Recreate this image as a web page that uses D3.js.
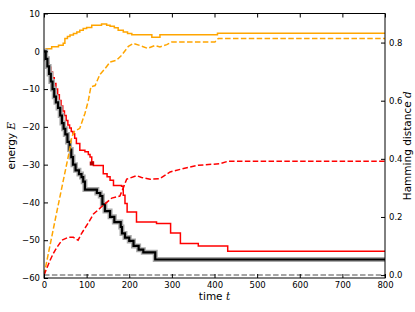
<!DOCTYPE html>
<html>
<head>
<meta charset="utf-8">
<script src="https://cdn.jsdelivr.net/npm/d3@7"></script>
<style>
  body { margin: 0; background: #fff; }
  svg { display: block; font-family: "DejaVu Sans", sans-serif; }
</style>
</head>
<body>
<svg width="415" height="312"></svg>
<script>
// energy runs (left axis), step functions: [time, energy]
const blackEnergy = [[0,0],[4,-2],[8,-4],[12,-6],[16,-8],[20,-10],[24,-12],[28,-13.5],[33,-15],[38,-17],[42,-19],
  [46,-20.5],[50,-22],[55,-24],[60,-26],[64,-28],[68,-30],[74,-31.5],[82,-32.5],[88,-33.3],[92,-34.5],[96,-36.6],
  [124,-37.5],[132,-38.3],[137,-40.5],[143,-42.3],[155,-43.8],[165,-45.2],[180,-46.5],[183,-48.2],[190,-49.3],
  [200,-50.2],[210,-51.5],[222,-52.5],[233,-53.2],[261,-55.1],[800,-55.1]];

const redEnergy = [[0,0],[4,-1.5],[8,-3],[12,-4.2],[16,-5.5],[20,-7],[24,-8.5],[28,-10],[32,-11.5],[36,-13],
  [40,-14.5],[44,-15.8],[48,-17],[52,-18.3],[56,-19.5],[60,-20.3],[64,-21.2],[68,-21.8],[72,-23],[76,-24.4],
  [84,-26.2],[96,-26.6],[104,-27.3],[108,-28],[112,-29.3],[116,-30.2],[139,-32.4],[148,-33.2],[155,-34.1],
  [163,-35.5],[182,-35.7],[186,-38.1],[190,-40.3],[195,-42.5],[217,-45.2],[264,-45.6],[297,-48.1],[320,-50.9],
  [362,-51.5],[431,-52.9],[800,-52.9]];

const orangeEnergy = [[0,0],[5,0.7],[18,1.2],[34,1.6],[45,2.1],[49,3.4],[55,3.9],[61,4.3],[69,4.7],[77,5.1],
  [84,5.6],[92,6],[100,6.3],[112,6.9],[135,7.2],[147,6.9],[155,6.6],[165,6.2],[174,5.6],[186,5.1],[196,4.7],
  [206,4.4],[253,3.7],[272,4.4],[407,4.8],[800,4.8]];

// Hamming distance runs (right axis): [time, d]
const redHamming = [[0,0],[14,0.05],[22,0.075],[30,0.095],[42,0.12],[57,0.13],[69,0.13],[80,0.12],[88,0.143],
  [104,0.18],[116,0.21],[135,0.235],[159,0.265],[178,0.272],[186,0.3],[194,0.33],[217,0.342],[229,0.336],
  [249,0.33],[272,0.332],[296,0.355],[323,0.365],[362,0.378],[413,0.383],[432,0.392],[800,0.392]];

const orangeHamming = [[0,0],[29,0.21],[60,0.43],[65,0.475],[72,0.495],[84,0.505],[96,0.556],[104,0.6],
  [110,0.648],[120,0.652],[131,0.69],[143,0.71],[155,0.733],[170,0.739],[182,0.756],[198,0.787],[210,0.797],
  [225,0.79],[243,0.78],[260,0.79],[272,0.785],[288,0.793],[300,0.802],[401,0.802],[409,0.814],[800,0.814]];

const blackHamming = [[0,0],[800,0]];
const redMarker = [[112,-29.7]];

const timeTicks = [0,100,200,300,400,500,600,700,800];
const energyTicks = [10,0,-10,-20,-30,-40,-50,-60];
const hammingTicks = [0,0.2,0.4,0.6,0.8];

const svg = d3.select("svg");
const mLeft = 44, mRight = 385, mTop = 13.5, mBottom = 278;

const x = d3.scaleLinear().domain([0, 800]).range([mLeft, mRight]);
const y = d3.scaleLinear().domain([-60, 10]).range([mBottom, mTop]);
const y2 = d3.scaleLinear().domain([-0.01, 0.9]).range([mBottom, mTop]);

svg.append("defs").append("clipPath").attr("id", "clip")
  .append("rect").attr("x", mLeft).attr("y", mTop).attr("width", mRight - mLeft).attr("height", mBottom - mTop);

const plot = svg.append("g").attr("clip-path", "url(#clip)");

const stepLine = d3.line().x(d => x(d[0])).y(d => y(d[1])).curve(d3.curveStepAfter);
const dLine = d3.line().x(d => x(d[0])).y(d => y2(d[1]));

// energy curves
plot.append("path").datum(orangeEnergy).attr("d", stepLine)
  .attr("fill", "none").attr("stroke", "#ffa500").attr("stroke-width", 1.5);
plot.append("path").datum(redEnergy).attr("d", stepLine)
  .attr("fill", "none").attr("stroke", "#ff0000").attr("stroke-width", 1.5);
plot.append("path").datum(blackEnergy).attr("d", stepLine)
  .attr("fill", "none").attr("stroke", "#aaa").attr("stroke-width", 5);
plot.append("path").datum(blackEnergy).attr("d", stepLine)
  .attr("fill", "none").attr("stroke", "#000").attr("stroke-width", 2.2);
plot.selectAll(".mk").data(redMarker).join("rect")
  .attr("x", d => x(d[0]) - 2).attr("y", d => y(d[1]) - 2)
  .attr("width", 4).attr("height", 4).attr("fill", "#b00000");

// hamming distance curves (twin axis, drawn on top)
plot.append("path").datum(blackHamming).attr("d", dLine)
  .attr("fill", "none").attr("stroke", "#888").attr("stroke-width", 1.5).attr("stroke-dasharray", "5.5,2.4");
plot.append("path").datum(orangeHamming).attr("d", dLine)
  .attr("fill", "none").attr("stroke", "#ffa500").attr("stroke-width", 1.5).attr("stroke-dasharray", "5.5,2.4");
plot.append("path").datum(redHamming).attr("d", dLine)
  .attr("fill", "none").attr("stroke", "#ff0000").attr("stroke-width", 1.5).attr("stroke-dasharray", "5.5,2.4");

// axes
const fs = 8.5;
const xAxis = svg.append("g").attr("transform", `translate(0,${mBottom})`)
  .call(d3.axisBottom(x).tickValues(timeTicks).tickSize(-4).tickPadding(4).tickFormat(d3.format("d")));
const xTop = svg.append("g").attr("transform", `translate(0,${mTop})`)
  .call(d3.axisTop(x).tickValues(timeTicks).tickSize(-4).tickFormat(""));
const yAxis = svg.append("g").attr("transform", `translate(${mLeft},0)`)
  .call(d3.axisLeft(y).tickValues(energyTicks).tickSize(-4).tickPadding(4)
    .tickFormat(d => d < 0 ? "\u2212" + Math.abs(d) : d));
const y2Axis = svg.append("g").attr("transform", `translate(${mRight},0)`)
  .call(d3.axisRight(y2).tickValues(hammingTicks).tickSize(-4).tickPadding(4).tickFormat(d3.format(".1f")));

[xAxis, xTop, yAxis, y2Axis].forEach(g => {
  g.select(".domain").remove();
  g.selectAll("text").attr("font-size", fs).attr("font-family", "DejaVu Sans").attr("fill", "#000");
  g.selectAll("line").attr("stroke", "#000");
});

svg.append("rect").attr("x", mLeft).attr("y", mTop).attr("width", mRight - mLeft).attr("height", mBottom - mTop)
  .attr("fill", "none").attr("stroke", "#000").attr("stroke-width", 1);

// axis labels
const lab = 10.5;
const tl = svg.append("text").attr("x", (mLeft + mRight) / 2).attr("y", 300)
  .attr("text-anchor", "middle").attr("font-size", lab);
tl.append("tspan").text("time ");
tl.append("tspan").attr("font-family", "DejaVu Serif").attr("font-style", "italic").text("t");

const el = svg.append("text").attr("transform", `translate(15,${(mTop + mBottom) / 2}) rotate(-90)`)
  .attr("text-anchor", "middle").attr("font-size", lab);
el.append("tspan").text("energy ");
el.append("tspan").attr("font-family", "DejaVu Serif").attr("font-style", "italic").text("E");

const hl = svg.append("text").attr("transform", `translate(411,${(mTop + mBottom) / 2}) rotate(-90)`)
  .attr("text-anchor", "middle").attr("font-size", lab);
hl.append("tspan").text("Hamming distance ");
hl.append("tspan").attr("font-family", "DejaVu Serif").attr("font-style", "italic").text("d");
</script>
</body>
</html>
